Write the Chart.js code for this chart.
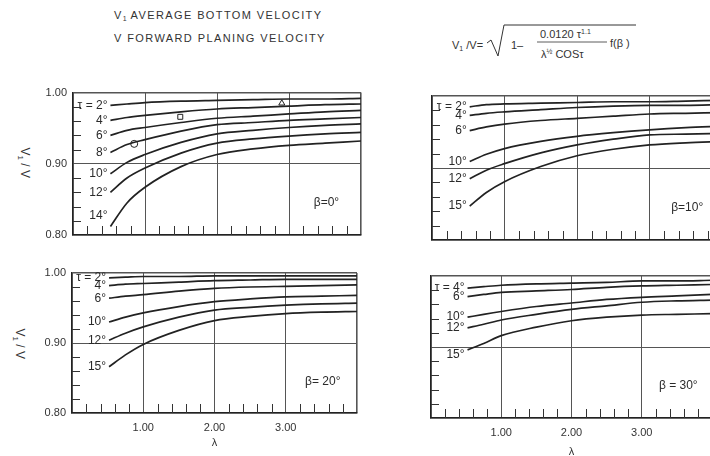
<!DOCTYPE html>
<html>
<head>
<meta charset="utf-8">
<script src="https://cdn.jsdelivr.net/npm/chart.js@4.4.0/dist/chart.umd.min.js"></script>
<style>
    html, body { margin: 0; padding: 0; width: 710px; height: 456px; overflow: hidden; background: #fff; }
    body { position: relative; font-family: "Liberation Sans", Arial, sans-serif; color: #333; }
    canvas { position: absolute; }
    .txt { position: absolute; white-space: nowrap; line-height: 1; }
    .head { font-size: 11px; letter-spacing: 1.4px; }
    .head sub, .frm sub { font-size: 7px; vertical-align: -2px; letter-spacing: 0; }
    .frm { font-size: 11px; }
    .frm sup { font-size: 7px; vertical-align: 4px; }
    .ylab { font-size: 12px; transform: rotate(90deg); transform-origin: center; }
</style>
</head>
<body>

<div class="txt head" style="left:114px;top:10px">V<sub>1</sub> AVERAGE BOTTOM VELOCITY</div>
<div class="txt head" style="left:114px;top:33px">V FORWARD PLANING VELOCITY</div>

<div class="txt frm" style="left:452px;top:40px">V<sub>1</sub> /V=</div>
<svg style="position:absolute;left:0;top:0" width="710" height="80">
    <polyline points="487,43 491,40 498,56 504,25 636,25" fill="none" stroke="#333" stroke-width="1"/>
    <line x1="537" y1="42" x2="607" y2="42" stroke="#333" stroke-width="0.8"/>
</svg>
<div class="txt frm" style="left:511px;top:40px">1&#8211;</div>
<div class="txt frm" style="left:540px;top:28px">0.0120 &tau;<sup>1.1</sup></div>
<div class="txt frm" style="left:541px;top:48px">&lambda;<sup>&frac12;</sup> COS&tau;</div>
<div class="txt frm" style="left:610px;top:38px">f(&beta; )</div>

<div class="txt ylab" style="left:8px;top:155px">V<sub style="font-size:8px">1</sub> / V</div>
<div class="txt ylab" style="left:3px;top:336px">V<sub style="font-size:8px">1</sub> / V</div>

<canvas id="beta0" width="372" height="170" style="left:0;top:80px"></canvas>
<canvas id="beta10" width="364" height="170" style="left:358px;top:80px"></canvas>
<canvas id="beta20" width="372" height="210" style="left:0;top:258px"></canvas>
<canvas id="beta30" width="362" height="210" style="left:358px;top:258px"></canvas>

<script>
// lambda stations where the curves were read
const lambda = [0.52, 0.75, 1, 1.5, 2, 2.5, 3, 3.5, 4];

// beta = 0 deg
const tausBeta0 = [2, 4, 6, 8, 10, 12, 14];
const valuesBeta0 = [
    [0.982, 0.984, 0.986, 0.988, 0.989, 0.990, 0.991, 0.991, 0.992],
    [0.961, 0.965, 0.968, 0.973, 0.977, 0.979, 0.981, 0.983, 0.984],
    [0.940, 0.947, 0.951, 0.958, 0.964, 0.967, 0.970, 0.973, 0.975],
    [0.916, 0.927, 0.934, 0.946, 0.955, 0.958, 0.961, 0.963, 0.965],
    [0.886, 0.902, 0.913, 0.930, 0.942, 0.947, 0.951, 0.954, 0.956],
    [0.860, 0.880, 0.894, 0.915, 0.929, 0.935, 0.939, 0.942, 0.944],
    [0.812, 0.845, 0.867, 0.896, 0.913, 0.921, 0.926, 0.929, 0.932]
];
// test points on the beta = 0 panel
const markerLambda = [0.85, 1.49, 2.9];
const markerValues = [0.928, 0.966, 0.985];
const markerStyles = ['circle', 'rect', 'triangle'];

// beta = 10 deg
const tausBeta10 = [2, 4, 6, 10, 12, 15];
const valuesBeta10 = [
    [0.985, 0.988, 0.989, 0.990, 0.991, 0.992, 0.992, 0.993, 0.994],
    [0.973, 0.976, 0.978, 0.981, 0.984, 0.986, 0.987, 0.987, 0.988],
    [0.952, 0.957, 0.961, 0.966, 0.969, 0.972, 0.975, 0.976, 0.977],
    [0.909, 0.919, 0.927, 0.937, 0.944, 0.949, 0.953, 0.956, 0.958],
    [0.885, 0.897, 0.906, 0.921, 0.932, 0.940, 0.946, 0.947, 0.948],
    [0.847, 0.866, 0.881, 0.902, 0.917, 0.926, 0.932, 0.935, 0.937]
];

// beta = 20 deg
const tausBeta20 = [2, 4, 6, 10, 12, 15];
const valuesBeta20 = [
    [0.993, 0.994, 0.995, 0.995, 0.996, 0.996, 0.996, 0.996, 0.996],
    [0.982, 0.984, 0.985, 0.987, 0.989, 0.990, 0.991, 0.991, 0.991],
    [0.964, 0.967, 0.969, 0.974, 0.978, 0.980, 0.981, 0.982, 0.983],
    [0.930, 0.937, 0.943, 0.952, 0.959, 0.963, 0.966, 0.967, 0.968],
    [0.904, 0.914, 0.923, 0.937, 0.947, 0.951, 0.954, 0.956, 0.957],
    [0.866, 0.883, 0.898, 0.918, 0.932, 0.938, 0.942, 0.944, 0.945]
];

// beta = 30 deg
const tausBeta30 = [4, 6, 10, 12, 15];
const valuesBeta30 = [
    [0.983, 0.985, 0.987, 0.989, 0.990, 0.991, 0.993, 0.993, 0.994],
    [0.971, 0.974, 0.977, 0.979, 0.981, 0.984, 0.986, 0.987, 0.988],
    [0.942, 0.946, 0.950, 0.957, 0.962, 0.967, 0.970, 0.972, 0.974],
    [0.927, 0.932, 0.938, 0.946, 0.953, 0.958, 0.963, 0.965, 0.966],
    [0.896, 0.905, 0.916, 0.928, 0.937, 0.942, 0.945, 0.946, 0.947]
];

const INK = '#222';
const GRID = '#555';
const near = (a, b) => Math.abs(a - b) < 1e-6;

// small inward ticks every 0.2 on lambda and 0.02 on V1/V
const minorTicks = {
    id: 'minorTicks',
    afterDatasetsDraw(chart) {
        const {ctx, chartArea: a, scales: {x, y}} = chart;
        ctx.save();
        ctx.strokeStyle = '#333';
        ctx.lineWidth = 1;
        ctx.beginPath();
        for (let i = 1; i < 20; i++) {
            if (i % 5 === 0) continue;
            const px = Math.round(x.getPixelForValue(i * 0.2)) + 0.5;
            ctx.moveTo(px, a.bottom);
            ctx.lineTo(px, a.bottom - 9);
        }
        for (let i = 1; i < 10; i++) {
            if (i === 5) continue;
            const py = Math.round(y.getPixelForValue(0.8 + i * 0.02)) + 0.5;
            ctx.moveTo(a.left, py);
            ctx.lineTo(a.left + 8, py);
        }
        ctx.stroke();
        ctx.restore();
    }
};

// tau labels at the left end of each curve, beta label in the corner
const curveLabels = {
    id: 'curveLabels',
    afterDatasetsDraw(chart, args, opts) {
        const {ctx, scales: {x, y}} = chart;
        ctx.save();
        ctx.fillStyle = '#2a2a2a';
        ctx.font = '12px "Liberation Sans", Arial, sans-serif';
        ctx.textAlign = 'right';
        ctx.textBaseline = 'middle';
        chart.data.datasets.forEach((ds, i) => {
            if (ds.isMarker) return;
            const p = ds.data[0];
            const dy = (opts.shift && opts.shift[i]) || 0;
            ctx.fillText(ds.label, x.getPixelForValue(p.x) - 3, y.getPixelForValue(p.y) + dy);
        });
        ctx.textAlign = 'center';
        ctx.fillText(opts.beta, x.getPixelForValue(3.52), y.getPixelForValue(0.845));
        ctx.restore();
    }
};

function setPanel(canvasID, taus, values, cfg) {
    const datasets = values.map((row, i) => ({
        label: (i === 0 ? 'τ = ' : '') + taus[i] + '°',
        data: lambda.map((l, j) => ({x: l, y: row[j]})),
        borderColor: INK,
        borderWidth: 1.7,
        pointRadius: 0,
        cubicInterpolationMode: 'monotone',
        fill: false
    }));

    if (cfg.markers) {
        datasets.push({
            isMarker: true,
            data: markerLambda.map((l, j) => ({x: l, y: markerValues[j]})),
            showLine: false,
            pointStyle: markerStyles,
            pointRadius: 3.5,
            backgroundColor: '#fff',
            borderColor: INK,
            borderWidth: 1
        });
    }

    const edge = (v, lo, hi) => near(v, lo) || near(v, hi) ? 1.6 : 1;

    new Chart(document.getElementById(canvasID), {
        type: 'line',
        data: {datasets: datasets},
        options: {
            responsive: false,
            animation: false,
            events: [],
            layout: {padding: {left: 0, top: cfg.padTop, right: cfg.padRight, bottom: 0}},
            plugins: {
                legend: {display: false},
                tooltip: {enabled: false},
                curveLabels: {beta: cfg.beta, shift: cfg.shift}
            },
            scales: {
                x: {
                    type: 'linear',
                    min: 0,
                    max: 4,
                    afterFit: (s) => { s.height = cfg.xHeight; },
                    ticks: {
                        display: cfg.showX,
                        stepSize: 1,
                        padding: 8,
                        color: '#333',
                        font: {family: '"Liberation Sans", Arial, sans-serif', size: 11},
                        callback: (v) => (v > 0 && v < 4) ? v.toFixed(2) : ''
                    },
                    grid: {
                        drawTicks: false,
                        color: GRID,
                        lineWidth: (c) => edge(c.tick.value, 0, 4)
                    },
                    border: {color: INK, width: 1.6},
                    title: {
                        display: cfg.showX,
                        text: 'λ',
                        color: '#333',
                        font: {family: '"Liberation Sans", Arial, sans-serif', size: 11},
                        padding: {top: 0, bottom: cfg.titlePad || 0}
                    }
                },
                y: {
                    min: 0.8,
                    max: 1.0,
                    afterFit: (s) => { s.width = cfg.yWidth; },
                    ticks: {
                        display: cfg.showY,
                        stepSize: 0.1,
                        padding: 6,
                        color: '#333',
                        font: {family: '"Liberation Sans", Arial, sans-serif', size: 11},
                        callback: (v) => v.toFixed(2)
                    },
                    grid: {
                        drawTicks: false,
                        color: GRID,
                        lineWidth: (c) => edge(c.tick.value, 0.8, 1.0)
                    },
                    border: {color: INK, width: 1.6}
                }
            }
        },
        plugins: [minorTicks, curveLabels]
    });
}

setPanel('beta0', tausBeta0, valuesBeta0, {
    beta: 'β=0°', markers: true, showX: false, showY: true,
    yWidth: 73, padTop: 12, padRight: 11, xHeight: 15, shift: {6: -11}
});
setPanel('beta10', tausBeta10, valuesBeta10, {
    beta: 'β=10°', showX: false, showY: false,
    yWidth: 74, padTop: 16, padRight: 0, xHeight: 10
});
setPanel('beta20', tausBeta20, valuesBeta20, {
    beta: 'β= 20°', showX: true, showY: true,
    yWidth: 72, padTop: 15, padRight: 15, xHeight: 55, titlePad: 18
});
setPanel('beta30', tausBeta30, valuesBeta30, {
    beta: 'β = 30°', showX: true, showY: false,
    yWidth: 73, padTop: 18, padRight: 5, xHeight: 50, titlePad: 9, shift: {4: 5}
});
</script>
</body>
</html>
